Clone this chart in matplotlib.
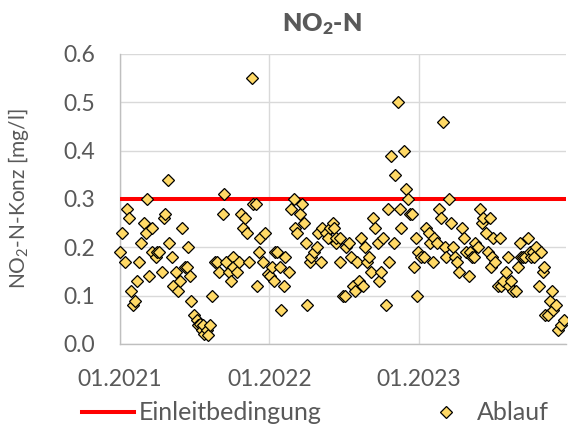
import matplotlib
matplotlib.use("Agg")
import matplotlib.pyplot as plt
import matplotlib.dates as mdates
import numpy as np
import pandas as pd
from matplotlib.lines import Line2D

plt.rcParams['font.family'] = ['Lato', 'DejaVu Sans']
plt.rcParams['mathtext.default'] = 'regular'

# Messwerte Ablauf (Datum, NO2-N in mg/l)
datum = [
    "2021-01-02", "2021-01-07", "2021-01-13", "2021-01-17", "2021-01-23", "2021-01-27",
    "2021-02-01", "2021-02-07", "2021-02-11", "2021-02-16", "2021-02-21", "2021-02-28",
    "2021-03-05", "2021-03-08", "2021-03-13", "2021-03-19", "2021-03-21", "2021-03-29",
    "2021-04-01", "2021-04-07", "2021-04-13", "2021-04-18", "2021-04-21", "2021-04-27",
    "2021-05-01", "2021-05-07", "2021-05-11", "2021-05-17", "2021-05-23", "2021-05-27",
    "2021-06-01", "2021-06-09", "2021-06-13", "2021-06-15", "2021-06-21", "2021-06-23",
    "2021-07-01", "2021-07-07", "2021-07-11", "2021-07-15", "2021-07-19", "2021-07-23",
    "2021-07-25", "2021-08-01", "2021-08-05", "2021-08-09", "2021-08-14", "2021-08-21",
    "2021-08-25", "2021-08-31", "2021-09-09", "2021-09-13", "2021-09-18", "2021-09-23",
    "2021-09-28", "2021-10-03", "2021-10-05", "2021-10-13", "2021-10-19", "2021-10-23",
    "2021-10-28", "2021-11-03", "2021-11-08", "2021-11-13", "2021-11-19", "2021-11-22",
    "2021-11-28", "2021-12-02", "2021-12-06", "2021-12-10", "2021-12-17", "2021-12-21",
    "2021-12-29", "2022-01-03", "2022-01-06", "2022-01-12", "2022-01-15", "2022-01-20",
    "2022-01-26", "2022-01-30", "2022-02-05", "2022-02-09", "2022-02-17", "2022-02-23",
    "2022-03-02", "2022-03-05", "2022-03-10", "2022-03-16", "2022-03-21", "2022-03-26",
    "2022-04-01", "2022-04-03", "2022-04-09", "2022-04-13", "2022-04-20", "2022-04-26",
    "2022-04-29", "2022-05-06", "2022-05-09", "2022-05-18", "2022-05-23", "2022-05-28",
    "2022-06-05", "2022-06-07", "2022-06-12", "2022-06-13", "2022-06-22", "2022-06-23",
    "2022-06-30", "2022-07-04", "2022-07-08", "2022-07-14", "2022-07-20", "2022-07-24",
    "2022-07-28", "2022-08-03", "2022-08-08", "2022-08-12", "2022-08-18", "2022-08-22",
    "2022-08-26", "2022-09-01", "2022-09-07", "2022-09-11", "2022-09-15", "2022-09-23",
    "2022-09-26", "2022-10-01", "2022-10-05", "2022-10-12", "2022-10-17", "2022-10-21",
    "2022-10-25", "2022-10-31", "2022-11-04", "2022-11-11", "2022-11-15", "2022-11-19",
    "2022-11-25", "2022-12-01", "2022-12-05", "2022-12-11", "2022-12-16", "2022-12-19",
    "2022-12-24", "2022-12-27", "2022-12-30", "2023-01-06", "2023-01-13", "2023-01-19",
    "2023-01-25", "2023-01-27", "2023-02-04", "2023-02-07", "2023-02-15", "2023-02-18",
    "2023-02-25", "2023-03-01", "2023-03-05", "2023-03-09", "2023-03-15", "2023-03-19",
    "2023-03-25", "2023-03-31", "2023-04-04", "2023-04-08", "2023-04-15", "2023-04-21",
    "2023-04-27", "2023-05-03", "2023-05-05", "2023-05-11", "2023-05-16", "2023-05-19",
    "2023-05-24", "2023-05-30", "2023-06-03", "2023-06-07", "2023-06-13", "2023-06-18",
    "2023-06-24", "2023-06-26", "2023-06-29", "2023-06-30", "2023-07-06", "2023-07-13",
    "2023-07-19", "2023-07-21", "2023-07-25", "2023-08-02", "2023-08-06", "2023-08-10",
    "2023-08-14", "2023-08-18", "2023-08-26", "2023-09-01", "2023-09-05", "2023-09-08",
    "2023-09-11", "2023-09-16", "2023-09-25", "2023-09-28", "2023-10-02", "2023-10-06",
    "2023-10-09", "2023-10-14", "2023-10-20", "2023-10-25", "2023-10-30", "2023-11-03",
    "2023-11-04", "2023-11-11", "2023-11-17", "2023-11-23", "2023-11-24", "2023-12-01",
    "2023-12-07", "2023-12-13", "2023-12-20",
]
ablauf = [
    0.19, 0.23, 0.17, 0.28, 0.26, 0.11,
    0.08, 0.09, 0.13, 0.17, 0.21, 0.25,
    0.23, 0.30, 0.14, 0.24, 0.19, 0.18,
    0.19, 0.19, 0.15, 0.26, 0.27, 0.34,
    0.21, 0.18, 0.12, 0.15, 0.11, 0.13,
    0.24, 0.16, 0.16, 0.20, 0.14, 0.09,
    0.06, 0.05, 0.04, 0.042, 0.03, 0.04,
    0.02, 0.03, 0.018, 0.04, 0.10, 0.17,
    0.17, 0.15, 0.27, 0.31, 0.17, 0.15,
    0.13, 0.18, 0.16, 0.15, 0.17, 0.27,
    0.24, 0.26, 0.23, 0.17, 0.55, 0.29,
    0.29, 0.12, 0.19, 0.22, 0.17, 0.23,
    0.145, 0.14, 0.16, 0.13, 0.19, 0.19,
    0.16, 0.07, 0.12, 0.18, 0.15, 0.28,
    0.30, 0.24, 0.23, 0.27, 0.29, 0.25,
    0.21, 0.08, 0.17, 0.18, 0.19, 0.20,
    0.23, 0.17, 0.24, 0.23, 0.22, 0.24,
    0.25, 0.24, 0.21, 0.22, 0.22, 0.17,
    0.10, 0.10, 0.20, 0.21, 0.18, 0.12,
    0.11, 0.17, 0.13, 0.22, 0.12, 0.20,
    0.17, 0.18, 0.15, 0.26, 0.24, 0.21,
    0.13, 0.15, 0.22, 0.08, 0.28, 0.17,
    0.39, 0.21, 0.35, 0.50, 0.28, 0.24,
    0.40, 0.32, 0.30, 0.27, 0.27, 0.16,
    0.22, 0.10, 0.19, 0.18, 0.18, 0.24,
    0.23, 0.21, 0.17, 0.22, 0.21, 0.28,
    0.26, 0.46, 0.20, 0.18, 0.30, 0.25,
    0.20, 0.18, 0.17, 0.15, 0.24, 0.22,
    0.19, 0.14, 0.19, 0.18, 0.18, 0.21,
    0.20, 0.28, 0.25, 0.26, 0.23, 0.19,
    0.26, 0.16, 0.18, 0.22, 0.17, 0.12,
    0.22, 0.12, 0.13, 0.15, 0.18, 0.12,
    0.13, 0.11, 0.11, 0.16, 0.21, 0.18,
    0.18, 0.18, 0.22, 0.19, 0.18, 0.19,
    0.18, 0.20, 0.12, 0.19, 0.15, 0.16,
    0.06, 0.06, 0.09, 0.11, 0.07, 0.08,
    0.03, 0.04, 0.05,
]
grenzwert = 0.3  # Einleitbedingung NO2-N
x_ticks = ["2021-01-01", "2022-01-01", "2023-01-01"]
x_start, x_ende = "2021-01-01", "2023-12-26"

grau = "#595959"
gitter = "#D9D9D9"
gelb = "#FFD966"

t = pd.to_datetime(datum)
t0, t1 = pd.Timestamp(x_start), pd.Timestamp(x_ende)

fig = plt.figure(figsize=(5.68, 4.30), dpi=100)
ax = fig.add_axes([120 / 568, 86 / 430, 446 / 568, 290 / 430])

ax.plot([t0, t1], [grenzwert, grenzwert], color="#FF0000", lw=2.9, zorder=3,
        solid_capstyle="butt")
ax.plot(t, ablauf, ls="none", marker="D", ms=6, mfc=gelb, mec="black",
        mew=0.9, zorder=4, clip_on=False)

ax.set_xlim(t0, t1)
ax.set_ylim(0, 0.6)
ax.set_yticks(np.arange(0, 0.61, 0.1))
ax.yaxis.set_major_formatter(plt.FuncFormatter(lambda v, p: f"{v:.1f}"))
ax.set_xticks(pd.to_datetime(x_ticks))
ax.xaxis.set_major_formatter(mdates.DateFormatter("%m.%Y"))

ax.grid(True, color=gitter, lw=1.0, zorder=0)
ax.set_axisbelow(True)
for s in ["top", "right"]:
    ax.spines[s].set_visible(False)
for s in ["left", "bottom"]:
    ax.spines[s].set_color("#BFBFBF")
    ax.spines[s].set_linewidth(1.0)
ax.tick_params(axis="both", length=0, labelsize=16.5, colors=grau)
ax.tick_params(axis="y", pad=18)
ax.tick_params(axis="x", pad=18)

ax.set_ylabel("NO$_2$-N-Konz [mg/l]", fontsize=15, color=grau, labelpad=23)

fig.text(322 / 568, 1 - 24 / 430, "NO$_2$-N", ha="center", va="center",
         fontsize=18, fontweight="heavy", color=grau)

handles = [
    Line2D([], [], color="#FF0000", lw=2.9),
    Line2D([], [], ls="none", marker="D", ms=6, mfc=gelb, mec="black", mew=0.9),
]
fig.legend(handles, ["Einleitbedingung", "Ablauf"], loc="center left",
           bbox_to_anchor=(82 / 568, 1 - 413 / 430), ncol=2, frameon=False,
           fontsize=18, labelcolor=grau, handlelength=2.08, handletextpad=0.18,
           columnspacing=3.96, borderpad=0, borderaxespad=0)

fig.savefig("out.png", dpi=100)
